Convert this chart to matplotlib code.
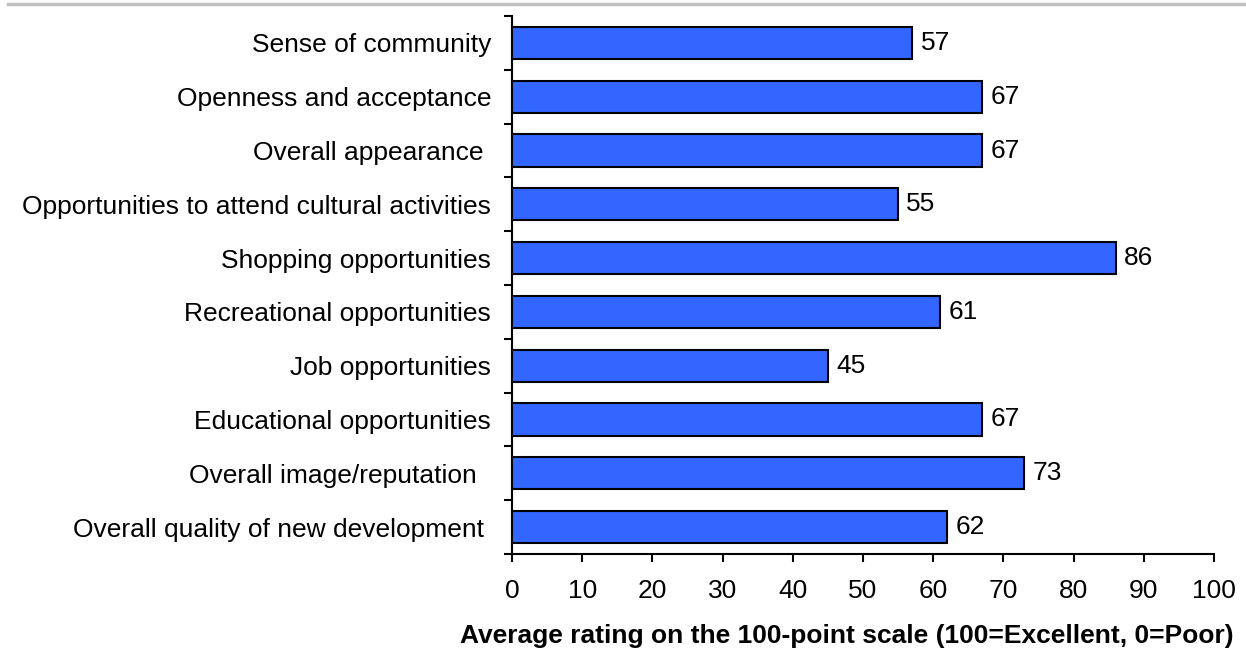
import matplotlib
matplotlib.use('Agg')
import matplotlib.pyplot as plt
from matplotlib.lines import Line2D

# Data, listed top to bottom as in the chart
categories = [
    'Sense of community',
    'Openness and acceptance',
    'Overall appearance ',
    'Opportunities to attend cultural activities',
    'Shopping opportunities',
    'Recreational opportunities',
    'Job opportunities',
    'Educational opportunities',
    'Overall image/reputation  ',
    'Overall quality of new development ',
]
ratings = [57, 67, 67, 55, 86, 61, 45, 67, 73, 62]
xticks = list(range(0, 101, 10))
xlabel = 'Average rating on the 100-point scale (100=Excellent, 0=Poor)'

plt.rcParams['font.family'] = ['Liberation Sans', 'DejaVu Sans']
fs = 19

fig = plt.figure(figsize=(12.46, 6.51), dpi=100)
ax = fig.add_axes([512 / 1246, 1 - 554 / 651, (1214 - 512) / 1246, (554 - 16) / 651])

ypos = list(range(len(categories)))[::-1]
ax.barh(ypos, ratings, height=0.6, color='#3366FF', edgecolor='black', linewidth=1.5, zorder=3)

for y, v in zip(ypos, ratings):
    ax.annotate(str(v), (v, y), xytext=(6, 0), textcoords='offset points',
                va='center', ha='left', fontsize=fs)

ax.set_xlim(0, 100)
ax.set_ylim(-0.5, len(categories) - 0.5)
ax.set_xticks(xticks)
ax.set_xticklabels([str(t) for t in xticks], fontsize=fs)

# category labels sit between the y tick marks
ax.set_yticks(ypos)
ax.set_yticklabels(categories, fontsize=fs)
ax.tick_params(axis='y', which='major', length=0, pad=15)
ax.set_yticks([i - 0.5 for i in range(len(categories) + 1)], minor=True)
ax.tick_params(axis='y', which='minor', length=6, width=1.5, direction='out')
ax.tick_params(axis='x', length=6, width=1.5, direction='out', pad=12)

for s in ['top', 'right']:
    ax.spines[s].set_visible(False)
for s in ['left', 'bottom']:
    ax.spines[s].set_linewidth(1.5)

# axis title is right-aligned near the figure edge in the original
fig.text(1234 / 1246, 1 - 636 / 651, xlabel, fontsize=fs, fontweight='bold',
         ha='right', va='center')

# grey rule across the top
fig.add_artist(Line2D([8 / 1246, 1], [1 - 4 / 651, 1 - 4 / 651], color='#C0C0C0',
                      linewidth=2.5, transform=fig.transFigure))

fig.savefig('out.png', dpi=100)
